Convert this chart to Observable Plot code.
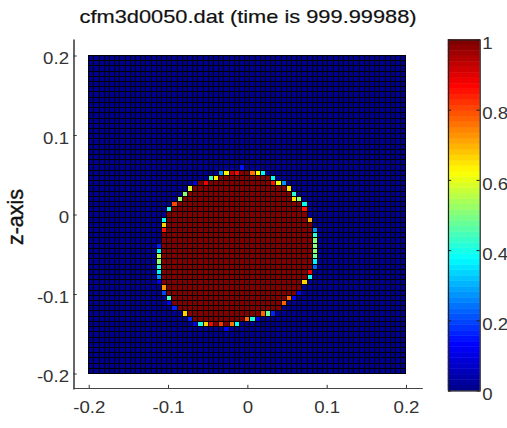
<!DOCTYPE html>
<html>
<head>
<meta charset="utf-8">
<script src="https://cdn.jsdelivr.net/npm/d3@7"></script>
<script src="https://cdn.jsdelivr.net/npm/@observablehq/plot@0.6"></script>
<style>
html,body{margin:0;padding:0;background:#fff;}
#chart{position:relative;width:507px;height:428px;overflow:hidden;}
#chart svg{position:absolute;left:0;top:0;background:transparent;}
</style>
</head>
<body>
<div id="chart"></div>
<script>
const titleText = "cfm3d0050.dat (time is 999.99988)";
const yLabelText = "z-axis";
const plotTicks = [-0.2, -0.1, 0, 0.1, 0.2];
const barTicks = [0, 0.2, 0.4, 0.6, 0.8, 1];
const gridCount = 61;
const firstFullRow = 22;
// inclusive columns of fully filled cells, one entry per row from firstFullRow
const fullFrom = [29,25,21,20,19,18,17,16,15,15,15,15,14,14,14,14,14,14,14,14,14,14,15,15,16,16,17,19,20];
const fullTo   = [30,34,34,37,38,38,40,40,41,41,42,42,42,42,42,42,42,42,42,41,41,40,40,39,37,36,36,32,29];
// partially filled interface cells: [column, row, value]
const interfaceCells = [
  [29,21,.15],
  [25,22,.27],[26,22,.64],[27,22,.93],[28,22,.87],[31,22,.76],[32,22,.62],[33,22,.37],
  [23,23,.45],[24,23,.64],[35,23,.38],
  [20,24,.12],[22,24,.88],[35,24,.85],[36,24,.6],[37,24,.27],
  [19,25,.58],[38,25,.65],
  [18,26,.5],[39,26,.42],
  [17,27,.53],[39,27,.65],[40,27,.5],
  [16,28,.8],[41,28,.38],
  [15,29,.4],[41,29,.85],
  [14,31,.38],[42,31,.7],
  [14,32,.66],
  [14,33,.85],[43,33,.28],
  [43,34,.42],[43,35,.5],
  [13,36,.16],[43,36,.5],
  [13,37,.36],[43,37,.5],
  [13,38,.55],[43,38,.47],
  [13,39,.5],[43,39,.37],
  [13,40,.42],[43,40,.22],
  [13,41,.37],[42,41,.88],
  [13,42,.28],[42,42,.4],
  [13,43,.12],[41,43,.66],
  [14,44,.72],
  [14,45,.2],[40,45,.13],
  [15,46,.45],[38,46,.78],[39,46,.12],
  [15,47,.13],[37,47,.78],
  [16,48,.17],
  [18,49,.66],[33,49,.78],[34,49,.48],[35,49,.16],
  [19,50,.17],[30,50,.78],[31,50,.42],[32,50,.1],
  [20,51,.13],[21,51,.42],[22,51,.66],[23,51,.87],[24,51,1],[25,51,.82],[26,51,1],[27,51,.76],[28,51,.38],
  [26,52,.13]
];

// MATLAB jet, 64 levels
const jetStops = [[0,0,0,143],[.125,0,0,255],[.375,0,255,255],[.625,255,255,0],[.875,255,0,0],[1,128,0,0]];
const levelCount = 64;
const jet = d3.range(levelCount).map(k => {
  const t = k / (levelCount - 1);
  let i = 0;
  while (i < jetStops.length - 2 && t >= jetStops[i + 1][0]) i++;
  const a = jetStops[i], b = jetStops[i + 1], u = (t - a[0]) / (b[0] - a[0]);
  return d3.rgb(a[1] + (b[1] - a[1]) * u, a[2] + (b[2] - a[2]) * u, a[3] + (b[3] - a[3]) * u).formatHex();
});
const thresholds = d3.range(1, levelCount).map(k => k / levelCount);
const colorScale = {type: "threshold", domain: thresholds, range: jet};

const values = new Map();
fullFrom.forEach((from, r) => {
  for (let c = from; c <= fullTo[r]; c++) values.set(c + "," + (r + firstFullRow), 1);
});
interfaceCells.forEach(([c, r, v]) => values.set(c + "," + r, v));

const step = 0.4 / gridCount;
const cells = [];
for (let r = 0; r < gridCount; r++) for (let c = 0; c < gridCount; c++) {
  cells.push({x1: -0.2 + c * step, x2: -0.2 + (c + 1) * step, y1: 0.2 - (r + 1) * step, y2: 0.2 - r * step, v: values.get(c + "," + r) ?? 0});
}
const levels = d3.range(levelCount).map(k => ({y1: k / levelCount, y2: (k + 1) / levelCount, v: (k + 0.5) / levelCount}));

const font = "'Liberation Sans', Arial, sans-serif";
const fmt = d => String(d);
const xMin = -0.2192, yMin = -0.2182;

const main = Plot.plot({
  width: 507, height: 428,
  marginLeft: 73.5, marginRight: 85.3, marginTop: 40, marginBottom: 40,
  style: {fontFamily: font, fontSize: "16.5px", color: "#333", background: "transparent"},
  x: {domain: [xMin, 0.2198]},
  y: {domain: [yMin, 0.2195]},
  color: colorScale,
  marks: [
    Plot.rect(cells, {x1: "x1", x2: "x2", y1: "y1", y2: "y2", fill: "v", stroke: "#000", strokeWidth: 1, shapeRendering: "crispEdges"}),
    Plot.frame({anchor: "left", stroke: "#666", strokeWidth: 2}),
    Plot.frame({anchor: "bottom", stroke: "#444", strokeWidth: 1.2}),
    Plot.ruleX(plotTicks, {x: d => d, y1: yMin, y2: yMin + 0.004, stroke: "#333"}),
    Plot.ruleY(plotTicks, {y: d => d, x1: xMin, x2: xMin + 0.004, stroke: "#333"}),
    Plot.axisX({ticks: plotTicks, tickFormat: fmt, anchor: "bottom", tickSize: 0, tickPadding: 13, label: null, fill: "#333"}),
    Plot.axisY({ticks: plotTicks, tickFormat: fmt, anchor: "left", tickSize: 0, tickPadding: 5, dy: 3, label: null, fill: "#333"}),
    Plot.text([yLabelText], {frameAnchor: "left", dx: -58, dy: 2.5, rotate: -90, fontSize: 21.5, fill: "#111", stroke: "#111", strokeWidth: 0.4, textAnchor: "middle"}),
    Plot.text([titleText], {frameAnchor: "top", dy: -31, fontSize: 18.5, fill: "#111", stroke: "#111", strokeWidth: 0.2, textAnchor: "middle"})
  ]
});

const bar = Plot.plot({
  width: 507, height: 428,
  marginLeft: 448, marginRight: 27.3, marginTop: 39.5, marginBottom: 37.5,
  style: {fontFamily: font, fontSize: "16.5px", color: "#333", background: "transparent"},
  x: {domain: [0, 1], axis: null},
  y: {domain: [0, 1]},
  color: colorScale,
  marks: [
    Plot.rect(levels, {x1: 0, x2: 1, y1: "y1", y2: "y2", fill: "v", stroke: "v", strokeWidth: 0.5}),
    Plot.frame({stroke: "#222", strokeWidth: 1.2}),
    Plot.ruleY(barTicks, {y: d => d, x1: 0, x2: 0.1, stroke: "#222"}),
    Plot.ruleY(barTicks, {y: d => d, x1: 0.9, x2: 1, stroke: "#222"}),
    Plot.axisY({ticks: barTicks, tickFormat: fmt, anchor: "right", tickSize: 0, tickPadding: 2, dy: 4, label: null, fill: "#333"})
  ]
});

const root = document.getElementById("chart");
root.appendChild(main);
root.appendChild(bar);

// the reference is slightly wider than tall: widen text glyphs to match
root.querySelectorAll("svg text").forEach(t => {
  if (t.textContent === yLabelText) return;
  const target = t.textContent === titleText ? 337 : t.getComputedTextLength() * 1.13;
  t.setAttribute("textLength", target);
  t.setAttribute("lengthAdjust", "spacingAndGlyphs");
});
</script>
</body>
</html>
